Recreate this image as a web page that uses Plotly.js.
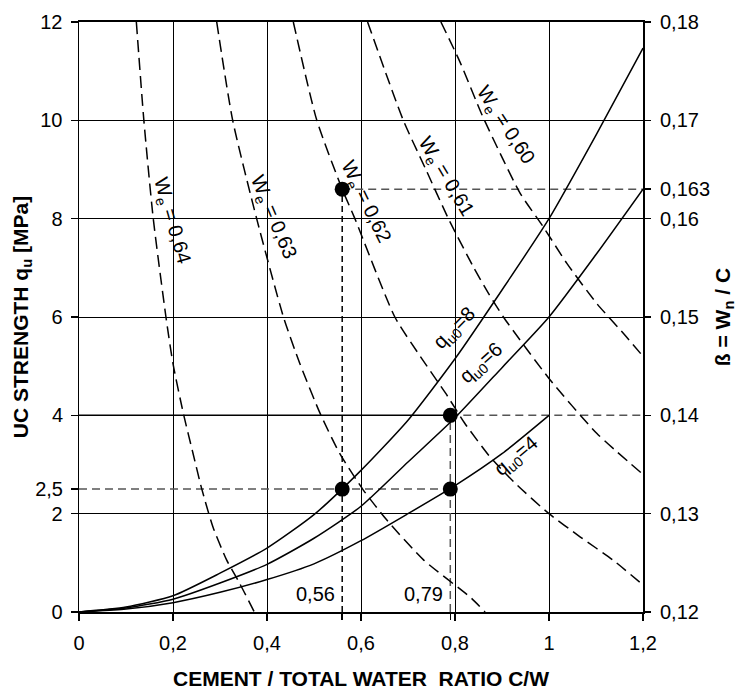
<!DOCTYPE html>
<html>
<head>
<meta charset="utf-8">
<script src="https://cdn.plot.ly/plotly-3.0.1.min.js"></script>
<style>html,body{margin:0;padding:0;background:#fff}#chart{width:737px;height:690px}</style>
</head>
<body>
<div id="chart"></div>
<script>
// ---- data ----
const cwGrid = [0, 0.1, 0.2, 0.3, 0.4, 0.5, 0.6, 0.7, 0.8, 0.9, 1.0, 1.1, 1.2];
const qu0_8 = [0, 0.1, 0.33, 0.79, 1.3, 1.98, 2.88, 3.9, 5.15, 6.55, 8.0, 9.7, 11.47];
const qu0_6 = [0, 0.08, 0.26, 0.59, 0.97, 1.5, 2.15, 3.05, 3.95, 4.97, 6.0, 7.27, 8.6];
const cwGrid4 = [0, 0.1, 0.2, 0.3, 0.4, 0.5, 0.6, 0.7, 0.8, 0.9, 1.0];
const qu0_4 = [0, 0.06, 0.19, 0.4, 0.66, 0.98, 1.45, 2.0, 2.57, 3.22, 4.0];

const we064_x = [0.122, 0.138, 0.158, 0.185, 0.2, 0.222, 0.242, 0.261, 0.285, 0.314, 0.342, 0.373];
const we064_y = [12, 10, 8, 6, 5.05, 4.04, 3.25, 2.51, 1.73, 1.06, 0.58, 0];
const we063_x = [0.293, 0.327, 0.378, 0.435, 0.47, 0.513, 0.555, 0.605, 0.655, 0.733, 0.835, 0.864];
const we063_y = [12, 10, 8, 6, 5.05, 4.04, 3.22, 2.48, 1.87, 1.06, 0.28, 0];
const we062_x = [0.456, 0.506, 0.56, 0.587, 0.672, 0.726, 0.78, 0.82, 0.875, 0.93, 1.0, 1.066, 1.137, 1.2];
const we062_y = [12, 10, 8.6, 8, 6, 5.2, 4.45, 3.85, 3.15, 2.6, 2.0, 1.53, 1.05, 0.55];
const we061_x = [0.614, 0.69, 0.738, 0.786, 0.839, 0.87, 0.903, 1.0, 1.102, 1.2];
const we061_y = [12, 10, 9, 8, 7.02, 6.5, 6.0, 4.75, 3.63, 2.8];
const we060_x = [0.770, 0.81, 0.858, 0.903, 0.939, 0.988, 1.038, 1.102, 1.159, 1.2];
const we060_y = [12, 11.2, 10.1, 9.19, 8.51, 7.83, 7.09, 6.27, 5.66, 5.2];

const pointX = [0.56, 0.56, 0.79, 0.79];
const pointY = [8.6, 2.5, 4.0, 2.5];
const cwMarks = [0.56, 0.79];
const cwMarkText = ['0,56', '0,79'];
const quRef = [2.5, 4.0];
const betaRef = 0.163;

const xTicks = [0, 0.2, 0.4, 0.6, 0.8, 1.0, 1.2];
const xTickText = ['0', '0,2', '0,4', '0,6', '0,8', '1', '1,2'];
const yGridTicks = [0, 2, 6, 8, 10, 12];
const yGridText = ['0', '2', '6', '8', '10', '12'];
const yExtraTicks = [2.5, 4];
const yExtraText = ['2,5', '4'];
const betaTicks = [0.12, 0.13, 0.14, 0.15, 0.16, 0.163, 0.17, 0.18];
const betaText = ['0,12', '0,13', '0,14', '0,15', '0,16', '0,163', '0,17', '0,18'];

const weNames = ['0,64', '0,63', '0,62', '0,61', '0,60'];
const quNames = ['8', '6', '4'];

// ---- styling ----
const FONT = 'Arial, "Liberation Sans", sans-serif';
const black = '#000';
const qToY = b => (b - 0.12) / 0.005; // beta -> q_u scale for reference lines

const solid = (x, y) => ({x, y, type: 'scatter', mode: 'lines', line: {color: black, width: 1.5, shape: 'spline', smoothing: 0.6}, hoverinfo: 'skip', showlegend: false});
const dashed = (x, y) => ({x, y, type: 'scatter', mode: 'lines', line: {color: black, width: 1.5, dash: '12px,6px', shape: 'spline', smoothing: 0.6}, hoverinfo: 'skip', showlegend: false});
const guide = (x, y, color, dash) => ({x, y, type: 'scatter', mode: 'lines', line: {color, width: 1.5, dash}, hoverinfo: 'skip', showlegend: false});

const y86 = qToY(betaRef);
const traces = [
  guide([0, cwMarks[1]], [quRef[1], quRef[1]], black, 'solid'),
  guide([cwMarks[1], 1.2], [quRef[1], quRef[1]], '#555', '8px,5px'),
  guide([0, cwMarks[1]], [quRef[0], quRef[0]], '#555', '8px,5px'),
  guide([cwMarks[0], 1.2], [y86, y86], '#555', '8px,5px'),
  guide([cwMarks[0], cwMarks[0]], [0, y86], black, '6px,4px'),
  guide([cwMarks[1], cwMarks[1]], [0, quRef[1]], '#555', '8px,5px'),
  dashed(we064_x, we064_y),
  dashed(we063_x, we063_y),
  dashed(we062_x, we062_y),
  dashed(we061_x, we061_y),
  dashed(we060_x, we060_y),
  solid(cwGrid, qu0_8),
  solid(cwGrid, qu0_6),
  solid(cwGrid4, qu0_4),
  {x: pointX, y: pointY, type: 'scatter', mode: 'markers', marker: {color: black, size: 15}, hoverinfo: 'skip', showlegend: false},
  {x: [0], y: [0.12], yaxis: 'y2', type: 'scatter', mode: 'markers', marker: {opacity: 0}, hoverinfo: 'skip', showlegend: false},
  {x: [0], y: [0], yaxis: 'y3', type: 'scatter', mode: 'markers', marker: {opacity: 0}, hoverinfo: 'skip', showlegend: false},
  {x: [0], y: [0], xaxis: 'x2', type: 'scatter', mode: 'markers', marker: {opacity: 0}, hoverinfo: 'skip', showlegend: false}
];

const lblFont = {family: FONT, size: 20, color: black};
const weLabelPos = [[0.197, 7.97, 74], [0.413, 8.03, 67], [0.608, 8.34, 64], [0.779, 8.85, 59], [0.907, 9.90, 57]];
const quLabelPos = [[0.80, 5.77, -45], [0.857, 5.05, -42], [0.932, 3.16, -40]];
const annotations = [];
weNames.forEach((n, i) => {
  const p = weLabelPos[i];
  annotations.push({x: p[0], y: p[1], xref: 'x', yref: 'y', text: 'W<sub>e</sub> = ' + n, showarrow: false, textangle: p[2], font: lblFont});
});
quNames.forEach((n, i) => {
  const p = quLabelPos[i];
  annotations.push({x: p[0], y: p[1], xref: 'x', yref: 'y', text: 'q<sub>u0</sub>=' + n, showarrow: false, textangle: p[2], font: lblFont});
});
cwMarkText.forEach((t, i) => {
  annotations.push({x: cwMarks[i] - 0.012, y: 0.37, xref: 'x', yref: 'y', text: t, showarrow: false, xanchor: 'right', font: lblFont});
});

const tickFont = {family: FONT, size: 20, color: black};
const titleFont = {family: FONT, size: 21, color: black};

const layout = {
  width: 737, height: 690,
  margin: {l: 79, r: 94, t: 22, b: 78, pad: 0},
  paper_bgcolor: '#fff', plot_bgcolor: '#fff',
  showlegend: false,
  xaxis: {
    range: [0, 1.2], tickvals: xTicks, ticktext: xTickText, tickfont: tickFont,
    showgrid: true, gridcolor: black, gridwidth: 1, zeroline: false,
    showline: true, linecolor: black, linewidth: 2, mirror: true,
    ticks: 'outside', ticklen: 7, tickcolor: black, tickwidth: 1.5, ticklabelstandoff: 5,
    title: {text: '<b>CEMENT / TOTAL WATER  RATIO C/W</b>', font: titleFont, standoff: 20}
  },
  xaxis2: {
    overlaying: 'x', anchor: 'y', side: 'bottom', range: [0, 1.2], tickvals: cwMarks, showticklabels: false,
    showgrid: false, zeroline: false, showline: false, ticks: 'outside', ticklen: 7, tickcolor: black, tickwidth: 1.5
  },
  yaxis: {
    range: [0, 12], tickvals: yGridTicks, ticktext: yGridText, tickfont: tickFont,
    showgrid: true, gridcolor: black, gridwidth: 1, zeroline: false,
    showline: true, linecolor: black, linewidth: 1.5, mirror: true,
    ticks: 'outside', ticklen: 7, tickcolor: black, tickwidth: 1.5, ticklabelstandoff: 4,
    title: {text: '<b>UC STRENGTH q<sub>u</sub> [MPa]</b>', font: titleFont, standoff: 6}
  },
  yaxis3: {
    overlaying: 'y', anchor: 'x', side: 'left', range: [0, 12], tickvals: yExtraTicks, ticktext: yExtraText, tickfont: tickFont,
    showgrid: false, zeroline: false, showline: false, ticks: 'outside', ticklen: 7, tickcolor: black, tickwidth: 1.5, ticklabelstandoff: 4
  },
  yaxis2: {
    overlaying: 'y', anchor: 'x', side: 'right', range: [0.12, 0.18], tickvals: betaTicks, ticktext: betaText, tickfont: tickFont,
    showgrid: false, zeroline: false, showline: false, ticks: 'outside', ticklen: 7, tickcolor: black, tickwidth: 1.5, ticklabelstandoff: 5,
    title: {text: '<b>ß = W<sub>n</sub> / C</b>', font: titleFont, standoff: 8}
  },
  annotations: annotations
};

Plotly.newPlot('chart', traces, layout, {staticPlot: true, displayModeBar: false});
</script>
</body>
</html>
